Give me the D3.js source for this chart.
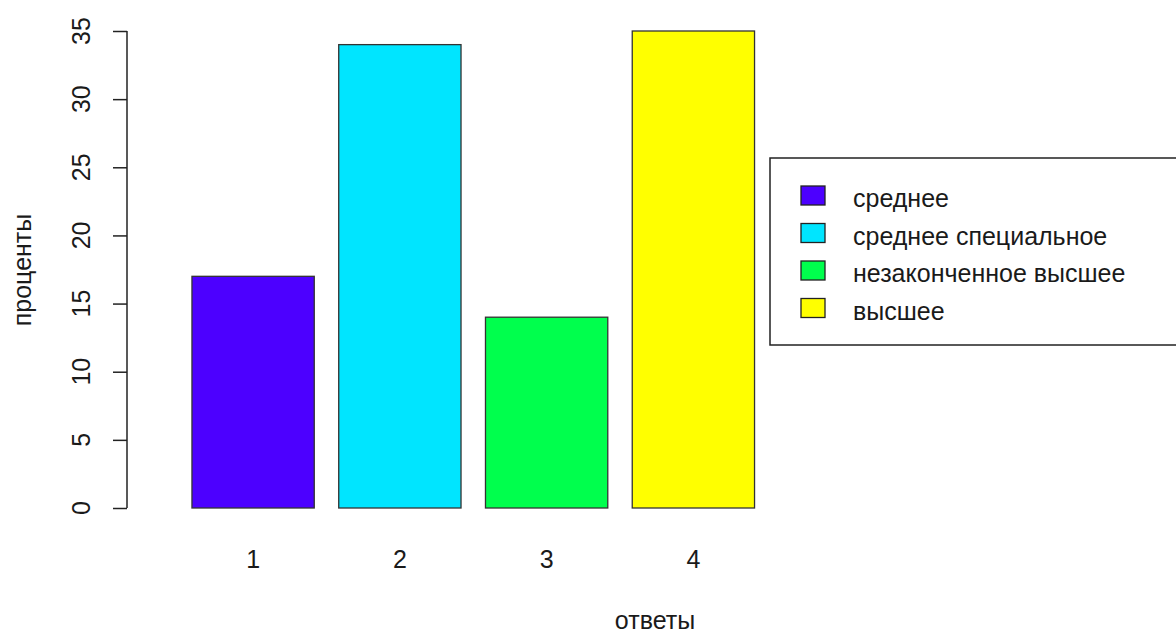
<!DOCTYPE html>
<html>
<head>
<meta charset="utf-8">
<script src="https://cdn.jsdelivr.net/npm/d3@7"></script>
<style>
  body { margin: 0; background: #fff; }
  text { font-family: "Liberation Sans", Arial, sans-serif; fill: #1a1a1a; }
</style>
</head>
<body>
<svg id="svg" width="1176" height="635"></svg>
<script>
// data
var categories = ["1", "2", "3", "4"];
var values = [17, 34, 14, 35];
var legendLabels = ["среднее", "среднее специальное", "незаконченное высшее", "высшее"];
var colors = ["#4C00FF", "#00E5FF", "#00FF4D", "#FFFF00"];
var yTicks = [0, 5, 10, 15, 20, 25, 30, 35];

var svg = d3.select("#svg");

var barWidth = 1, barSpace = 0.2;   // barplot units, like R
var x = d3.scaleLinear().domain([0, 5]).range([167.5, 779]);
var y = d3.scaleLinear().domain([0, 35]).range([508, 31]);
var axisX = 127;
var fontSize = 25;

// bars
svg.selectAll(".bar")
  .data(values)
  .enter().append("rect")
  .attr("class", "bar")
  .attr("x", (d, i) => x(barSpace + i * (barWidth + barSpace)))
  .attr("y", d => y(d))
  .attr("width", x(barWidth) - x(0))
  .attr("height", d => y(0) - y(d))
  .style("fill", (d, i) => colors[i])
  .style("stroke", "#333")
  .style("stroke-width", 1.3);

// category labels under bars
svg.selectAll(".cat")
  .data(categories)
  .enter().append("text")
  .attr("class", "cat")
  .attr("x", (d, i) => x(barSpace + i * (barWidth + barSpace) + barWidth / 2))
  .attr("y", 568)
  .attr("text-anchor", "middle")
  .style("font-size", fontSize + "px")
  .text(d => d);

// y axis
var yAxis = d3.axisLeft(y).tickValues(yTicks).tickSize(14).tickFormat("");
var gy = svg.append("g").attr("transform", "translate(" + axisX + ",0)").call(yAxis);
gy.select(".domain").attr("d", "M0," + y(0) + "V" + y(35)).style("stroke", "#222").style("stroke-width", 1.5);
gy.selectAll(".tick line").style("stroke", "#222").style("stroke-width", 1.5);

svg.selectAll(".ytl")
  .data(yTicks)
  .enter().append("text")
  .attr("class", "ytl")
  .attr("transform", d => "translate(90," + y(d) + ") rotate(-90)")
  .attr("text-anchor", "middle")
  .style("font-size", fontSize + "px")
  .text(d => d);

// axis titles
svg.append("text")
  .attr("x", 655)
  .attr("y", 629)
  .attr("text-anchor", "middle")
  .style("font-size", fontSize + "px")
  .text("ответы");

svg.append("text")
  .attr("transform", "translate(31,270) rotate(-90)")
  .attr("text-anchor", "middle")
  .style("font-size", fontSize + "px")
  .text("проценты");

// legend
var lg = svg.append("g").attr("transform", "translate(770,158)");
lg.append("rect")
  .attr("x", 0).attr("y", 0)
  .attr("width", 430).attr("height", 187)
  .style("fill", "#fff")
  .style("stroke", "#222")
  .style("stroke-width", 1.5);

var items = lg.selectAll(".item")
  .data(legendLabels)
  .enter().append("g")
  .attr("class", "item")
  .attr("transform", (d, i) => "translate(0," + (i * 37.5) + ")");

items.append("rect")
  .attr("x", 31).attr("y", 28)
  .attr("width", 24).attr("height", 19)
  .style("fill", (d, i) => colors[i])
  .style("stroke", "#222")
  .style("stroke-width", 1.3);

items.append("text")
  .attr("x", 83)
  .attr("y", 49)
  .style("font-size", fontSize + "px")
  .text(d => d);
</script>
</body>
</html>
